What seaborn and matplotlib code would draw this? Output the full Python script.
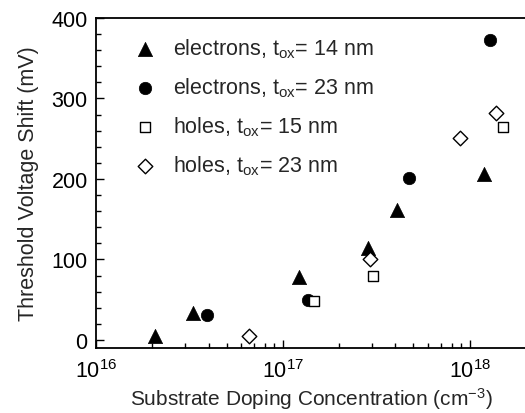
import numpy as np
import pandas as pd
import matplotlib
matplotlib.use("Agg")
import matplotlib.pyplot as plt
import matplotlib.ticker as mticker
import seaborn as sns

sns.set_theme(style="ticks")
plt.rcParams['font.family'] = ['Liberation Sans', 'DejaVu Sans']
plt.rcParams['mathtext.fontset'] = 'custom'
plt.rcParams['mathtext.rm'] = 'Liberation Sans'
plt.rcParams['mathtext.it'] = 'Liberation Sans'
plt.rcParams['mathtext.bf'] = 'Liberation Sans'

# data
e14_x = [2.07e16, 3.29e16, 1.22e17, 2.85e17, 4.07e17, 1.19e18]
e14_y = [5, 33, 78, 114, 161, 206]
e23_x = [3.94e16, 1.37e17, 4.75e17, 1.29e18]
e23_y = [31, 50, 201, 373]
h15_x = [1.47e17, 3.05e17, 1.51e18]
h15_y = [49, 79, 264]
h23_x = [6.6e16, 2.92e17, 8.9e17, 1.39e18]
h23_y = [5, 100, 251, 282]
labels = [r"electrons, t$_{\mathrm{ox}}$= 14 nm",
          r"electrons, t$_{\mathrm{ox}}$= 23 nm",
          r"holes, t$_{\mathrm{ox}}$= 15 nm",
          r"holes, t$_{\mathrm{ox}}$= 23 nm"]

FS = 15.5

fig = plt.figure(figsize=(5.25, 4.14), dpi=100)
ax = fig.add_axes([96/525, 65/414, 430/525, 330/414])

sns.scatterplot(x=e14_x, y=e14_y, ax=ax, marker='^', s=105, color='black',
                edgecolor='black', linewidth=0.5, label=labels[0])
sns.scatterplot(x=e23_x, y=e23_y, ax=ax, marker='o', s=80, color='black',
                edgecolor='black', linewidth=0.5, label=labels[1])
sns.scatterplot(x=h15_x, y=h15_y, ax=ax, marker='s', s=52, facecolor='white',
                edgecolor='black', linewidth=1.0, label=labels[2])
sns.scatterplot(x=h23_x, y=h23_y, ax=ax, marker='D', s=55, facecolor='white',
                edgecolor='black', linewidth=1.0, label=labels[3])

ax.set_xscale('log')
ax.set_xlim(1e16, 2e18)
ax.set_ylim(-10, 400)
ax.yaxis.set_major_locator(mticker.MultipleLocator(100))
ax.yaxis.set_minor_locator(mticker.MultipleLocator(20))
ax.xaxis.set_major_locator(mticker.LogLocator(base=10, numticks=10))
ax.xaxis.set_minor_locator(mticker.LogLocator(base=10, subs=np.arange(2, 10), numticks=20))
ax.xaxis.set_minor_formatter(mticker.NullFormatter())

ax.tick_params(which='both', direction='in', top=False, right=False,
               labelsize=FS, colors='black', width=1.0)
ax.tick_params(which='major', length=6)
ax.tick_params(which='minor', length=3.5)
ax.tick_params(axis='x', pad=8)
ax.tick_params(axis='y', pad=6)

for sp in ax.spines.values():
    sp.set_linewidth(1.3)
    sp.set_color('black')

ax.set_xlabel("Substrate Doping Concentration (cm$^{-3}$)", fontsize=15, labelpad=2)
ax.set_ylabel("Threshold Voltage Shift (mV)", fontsize=FS, labelpad=9)

leg = ax.legend(loc='upper left', bbox_to_anchor=(0.039, 0.99), frameon=False,
                fontsize=FS, handletextpad=0.5, labelspacing=0.72,
                borderaxespad=0.3, handlelength=1.6)

fig.savefig("out.png", dpi=100)
